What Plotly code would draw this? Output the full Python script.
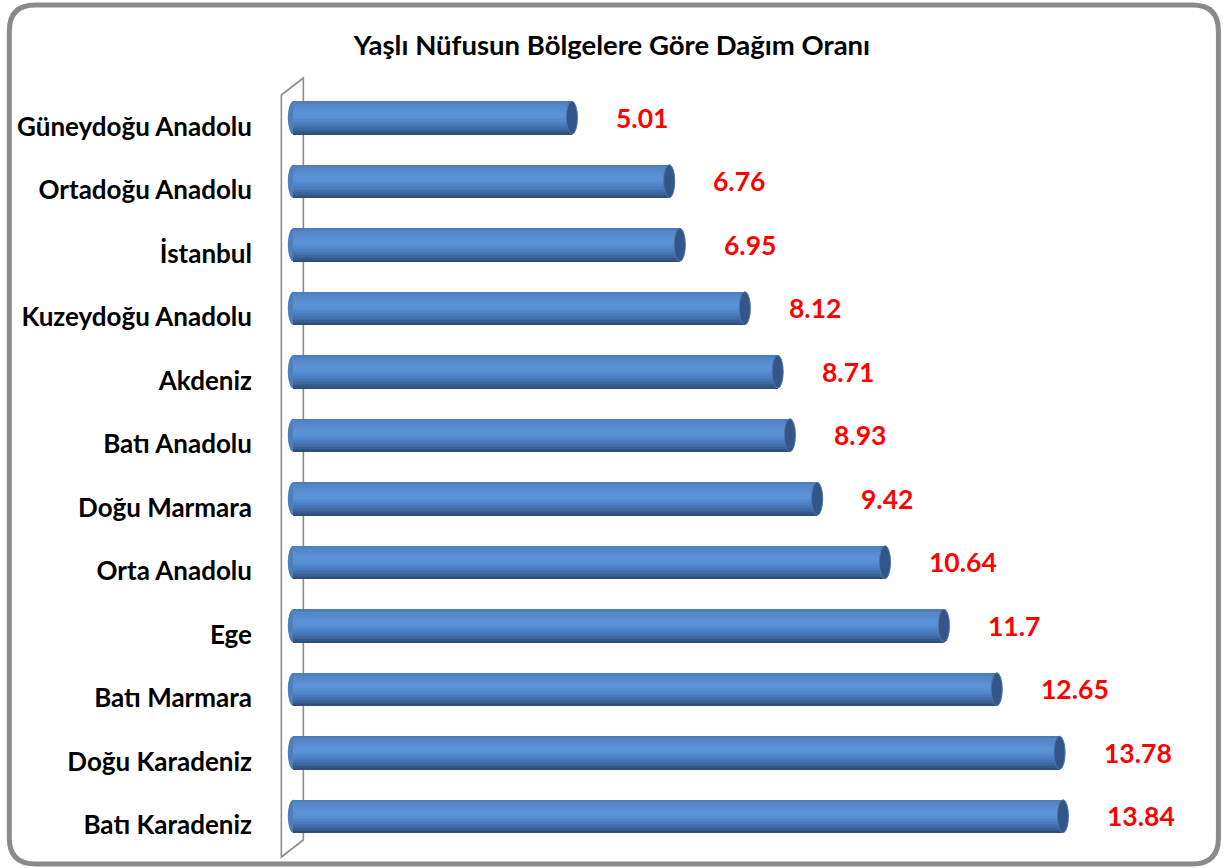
import plotly.graph_objects as go

# ---- data ----
regions = ["Güneydoğu Anadolu", "Ortadoğu Anadolu", "İstanbul", "Kuzeydoğu Anadolu",
           "Akdeniz", "Batı Anadolu", "Doğu Marmara", "Orta Anadolu", "Ege",
           "Batı Marmara", "Doğu Karadeniz", "Batı Karadeniz"]
values = [5.01, 6.76, 6.95, 8.12, 8.71, 8.93, 9.42, 10.64, 11.7, 12.65, 13.78, 13.84]
value_labels = ["5.01", "6.76", "6.95", "8.12", "8.71", "8.93", "9.42", "10.64", "11.7",
                "12.65", "13.78", "13.84"]
title_text = "Yaşlı Nüfusun Bölgelere Göre Dağım Oranı"

# ---- layout geometry ----
W, H = 1223, 868
S = 55.6            # pixels per unit
ZERO = 293          # pixel of value 0
XMIN, XMAX = -0.15, 16
L = ZERO + XMIN * S
R = W - (ZERO + XMAX * S)
T, B = 86, 20
PW, PH = W - L - R, H - T - B


def px(x):
    return (x - L) / PW


def py(y):
    return (H - B - y) / PH


FONT = "Lato, 'Open Sans', sans-serif"

# cylinder gradient (top -> bottom)
stops = [(0.0, (74, 120, 182)), (0.08, (82, 132, 197)), (0.35, (90, 146, 214)),
         (0.5, (88, 144, 211)), (0.7, (74, 124, 189)), (0.88, (58, 98, 152)),
         (1.0, (43, 74, 120))]


def grad(t):
    for (t0, c0), (t1, c1) in zip(stops[:-1], stops[1:]):
        if t0 <= t <= t1:
            f = (t - t0) / (t1 - t0) if t1 > t0 else 0
            c = [round(a + (b - a) * f) for a, b in zip(c0, c1)]
            return f"rgb({c[0]},{c[1]},{c[2]})"
    return "rgb(43,74,120)"


BW = 0.52
N = 22
fig = go.Figure()
for k in range(N):
    t = (k + 0.5) / N
    fig.add_trace(go.Bar(
        x=values, y=regions, orientation="h",
        width=BW / N * 1.35, offset=-BW / 2 + k * BW / N,
        marker=dict(color=grad(t), line=dict(width=0)),
        hoverinfo="skip", showlegend=False,
    ))

shapes = []
# border (rounded rectangle)
x0, y0, x1, y1, r = 9, 5, 1218, 864, 26
path = (f"M {px(x0 + r)},{py(y0)} L {px(x1 - r)},{py(y0)} Q {px(x1)},{py(y0)} {px(x1)},{py(y0 + r)} "
        f"L {px(x1)},{py(y1 - r)} Q {px(x1)},{py(y1)} {px(x1 - r)},{py(y1)} "
        f"L {px(x0 + r)},{py(y1)} Q {px(x0)},{py(y1)} {px(x0)},{py(y1 - r)} "
        f"L {px(x0)},{py(y0 + r)} Q {px(x0)},{py(y0)} {px(x0 + r)},{py(y0)} Z")
shapes.append(dict(type="path", xref="paper", yref="paper", path=path,
                   line=dict(color="#8a8a8a", width=5), layer="below"))
# wall
wall = (f"M {px(281)},{py(95)} L {px(303)},{py(78)} L {px(303)},{py(840)} "
        f"L {px(281)},{py(857)} Z")
shapes.append(dict(type="path", xref="paper", yref="paper", path=wall,
                   line=dict(color="#8c8c8c", width=1.6), layer="below"))

CAP = 0.1
for i, v in enumerate(values):
    shapes.append(dict(type="circle", xref="x", yref="y", x0=-CAP, x1=CAP,
                       y0=i - BW / 2, y1=i + BW / 2, fillcolor="rgb(78,126,190)",
                       line=dict(width=0), layer="below"))
    shapes.append(dict(type="circle", xref="x", yref="y", x0=v - CAP, x1=v + CAP,
                       y0=i - BW / 2, y1=i + BW / 2, fillcolor="rgb(50,86,136)",
                       line=dict(color="rgb(78,118,172)", width=1), layer="above"))

annotations = []
for i, (v, lab) in enumerate(zip(values, value_labels)):
    annotations.append(dict(x=v, y=regions[i], xref="x", yref="y", text=lab,
                            showarrow=False, xanchor="left", yanchor="middle",
                            xshift=42, font=dict(family=FONT, size=26.5, color="#ff0000",
                                                 weight="bold")))

fig.update_layout(
    width=W, height=H,
    margin=dict(l=L, r=R, t=T, b=B, pad=0, autoexpand=False),
    paper_bgcolor="white", plot_bgcolor="rgba(0,0,0,0)",
    barmode="overlay", bargap=0,
    title=dict(text=title_text, x=612 / W, xanchor="center", xref="container",
               y=1 - 45 / H, yanchor="middle",
               font=dict(family=FONT, size=27.5, color="black", weight="bold")),
    xaxis=dict(range=[XMIN, XMAX], visible=False, fixedrange=True),
    yaxis=dict(categoryorder="array", categoryarray=regions, autorange="reversed",
               showgrid=False, zeroline=False, showline=False, ticks="",
               ticklabelstandoff=round(L - 253), ticklabelshift=-9, automargin=False,
               fixedrange=True,
               tickfont=dict(family=FONT, size=26, color="black", weight="bold")),
    shapes=shapes, annotations=annotations,
)

fig.write_html("out.html", config={"displayModeBar": False},
               post_script="document.body.style.margin='0';")
